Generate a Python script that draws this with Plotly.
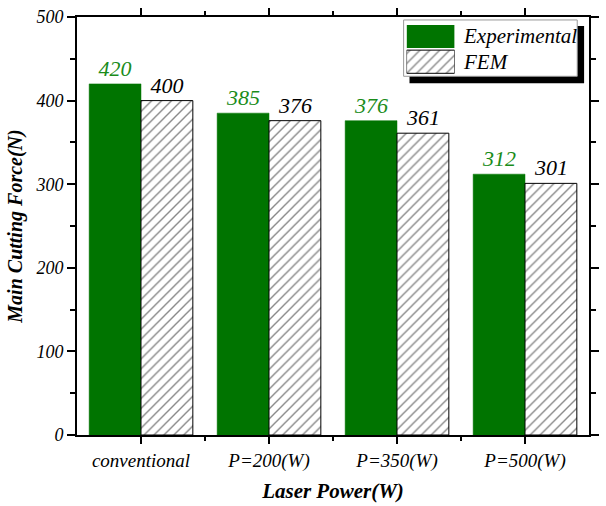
import plotly.graph_objects as go

categories = ["conventional", "P=200(W)", "P=350(W)", "P=500(W)"]
experimental = [420, 385, 376, 312]
fem = [400, 376, 361, 301]
series_names = ["Experimental", "FEM"]
y_ticks = [0, 100, 200, 300, 400, 500]

GREEN = "#007400"
LABEL_GREEN = "#1a8c1a"
FONT = "'Liberation Serif', 'Times New Roman', Times, serif"
W = 0.405
xpos = list(range(len(categories)))
HATCH = dict(shape="/", fgcolor="#111", bgcolor="white", size=7, solidity=0.2)

fig = go.Figure()
fig.add_trace(go.Bar(
    x=xpos, y=experimental, width=W, offset=-W,
    marker=dict(color=GREEN, line=dict(color=GREEN, width=0.5)),
    text=experimental, texttemplate="%{text}", textposition="outside",
    textfont=dict(family=FONT, size=22, color=LABEL_GREEN, style="italic"),
    cliponaxis=False, showlegend=False, name=series_names[0]))
fig.add_trace(go.Bar(
    x=xpos, y=fem, width=W, offset=0,
    marker=dict(color="white", line=dict(color="black", width=1), pattern=HATCH),
    text=fem, texttemplate="%{text}", textposition="outside",
    textfont=dict(family=FONT, size=22, color="black", style="italic"),
    cliponaxis=False, showlegend=False, name=series_names[1]))

# legend swatches drawn on an auxiliary axis
fig.add_trace(go.Bar(
    y=[1], x=[1], orientation="h", xaxis="x2", yaxis="y2", width=0.92,
    marker=dict(color=GREEN, line=dict(width=0)), showlegend=False, hoverinfo="skip"))
fig.add_trace(go.Bar(
    y=[0], x=[1], orientation="h", xaxis="x2", yaxis="y2", width=0.92,
    marker=dict(color="white", line=dict(color="black", width=1), pattern=HATCH),
    showlegend=False, hoverinfo="skip"))

L, R, T, B = 77, 7, 15, 68
PW, PH = 606 - L - R, 506 - T - B

def px(x):
    return (x - L) / PW

def py(y):
    return (506 - B - y) / PH

shapes = [
    dict(type="rect", xref="paper", yref="paper", layer="below",
         x0=px(416), x1=px(594), y0=py(82), y1=py(24),
         fillcolor="black", line=dict(width=0)),
    dict(type="rect", xref="paper", yref="paper", layer="below",
         x0=px(410), x1=px(587), y0=py(75), y1=py(18),
         fillcolor="white", line=dict(color="#999", width=1)),
]

annotations = [
    dict(xref="paper", yref="paper", x=px(468), y=py(34), text=series_names[0],
         showarrow=False, xanchor="left", yanchor="middle",
         font=dict(family=FONT, size=21, color="black", style="italic")),
    dict(xref="paper", yref="paper", x=px(468), y=py(61), text=series_names[1],
         showarrow=False, xanchor="left", yanchor="middle",
         font=dict(family=FONT, size=21, color="black", style="italic")),
]

fig.update_layout(
    width=606, height=506,
    margin=dict(l=L, r=R, t=T, b=B),
    paper_bgcolor="white", plot_bgcolor="rgba(0,0,0,0)",
    barmode="overlay",
    shapes=shapes, annotations=annotations,
    font=dict(family=FONT, color="black"),
    xaxis=dict(
        range=[-0.5, 3.5], tickmode="array", tickvals=xpos, ticktext=categories,
        ticks="outside", ticklen=7, tickwidth=1.5, tickcolor="black",
        showline=True, linecolor="black", linewidth=2, mirror="ticks",
        showgrid=False, zeroline=False,
        tickfont=dict(family=FONT, size=19, style="italic"),
        minor=dict(tickvals=[0.5, 1.5, 2.5], ticks="outside", ticklen=4, tickwidth=1.5, tickcolor="black"),
        title=dict(text="<b><i>Laser Power(W)</i></b>", font=dict(family=FONT, size=21), standoff=13),
    ),
    yaxis=dict(
        range=[0, 500], tickmode="array", tickvals=y_ticks,
        ticks="outside", ticklen=8, tickwidth=1.5, tickcolor="black",
        showline=True, linecolor="black", linewidth=2, mirror="ticks",
        showgrid=False, zeroline=False,
        tickfont=dict(family=FONT, size=18, style="italic"),
        minor=dict(tickvals=[50, 150, 250, 350, 450], ticks="outside", ticklen=5, tickwidth=1.5, tickcolor="black"),
        title=dict(text="<b><i>Main Cutting Force(N)</i></b>", font=dict(family=FONT, size=20), standoff=7),
    ),
    xaxis2=dict(domain=[px(413), px(462)], range=[0, 1], visible=False, anchor="y2"),
    yaxis2=dict(domain=[py(73), py(22)], range=[-0.5, 1.5], visible=False, anchor="x2"),
)

fig.write_html("out.html", config={"displayModeBar": False},
               post_script="document.body.style.margin='0';document.body.style.overflow='hidden';")
